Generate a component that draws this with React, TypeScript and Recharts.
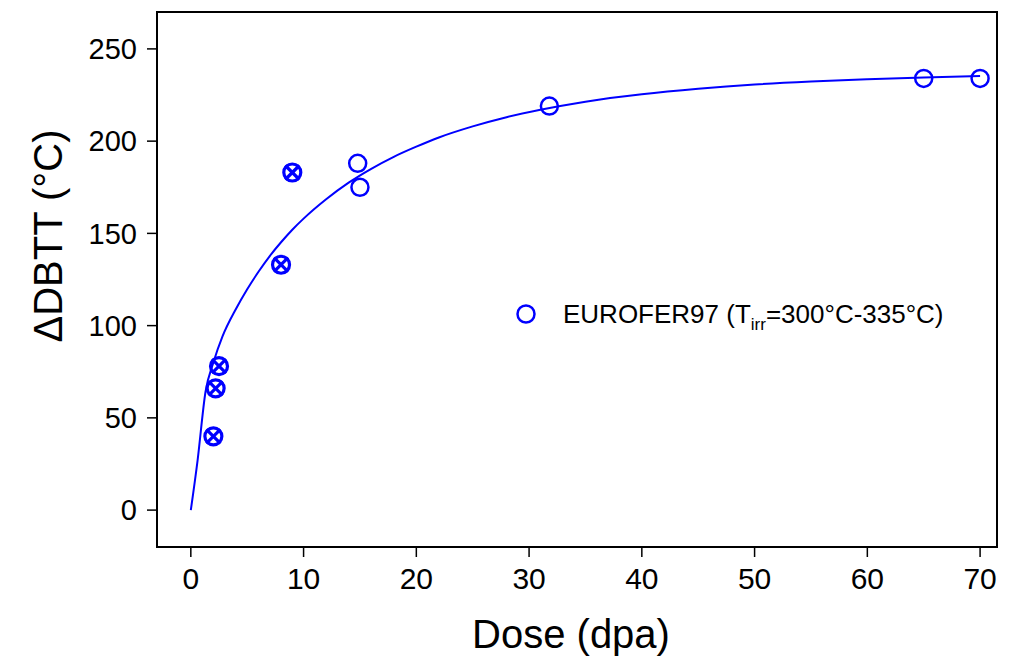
import React from 'react';
import {
  ComposedChart,
  Line,
  Scatter,
  XAxis,
  YAxis,
  Legend,
  ReferenceArea,
  Label
} from 'recharts';

// crossed markers (EUROFER97, low dose)
const crossedDose = [2.0, 2.2, 2.5, 8.0, 9.0];
const crossedShift = [40, 66, 78, 133, 183];

// open markers (EUROFER97, higher dose)
const openDose = [14.8, 15.0, 31.8, 65.0, 70.0];
const openShift = [188, 175, 219, 234, 234];

// fitted trend line
const fitDose = [0, 0.6, 1.3, 2, 2.8, 4, 5, 6, 7, 8, 9, 10, 12, 14, 16, 18, 20, 22, 25, 28, 31, 35, 40, 45, 50, 55, 60, 65, 70];
const fitShift = [0, 27, 64, 80, 94, 109, 119.7, 129.2, 137.7, 145.2, 152, 158, 168.5, 177.5, 185, 191.5, 197, 202, 208, 213, 217, 221.4, 225.4, 228.4, 230.7, 232.3, 233.5, 234.5, 235.3];

const xTicks = [0, 10, 20, 30, 40, 50, 60, 70];
const yTicks = [0, 50, 100, 150, 200, 250];

const BLUE = '#0000ff';
const FONT = '"Liberation Sans", Arial, sans-serif';

const crossedData = crossedDose.map((x, i) => ({ x, y: crossedShift[i] }));
const openData = openDose.map((x, i) => ({ x, y: openShift[i] }));
const fitData = fitDose.map((x, i) => ({ x, y: fitShift[i] }));

const OpenCircle = (props: any) => {
  const { cx, cy } = props;
  return <circle cx={cx} cy={cy} r={8.5} fill="none" stroke={BLUE} strokeWidth={2.5} />;
};

const CrossedCircle = (props: any) => {
  const { cx, cy } = props;
  const d = 7;
  return (
    <g>
      <circle cx={cx} cy={cy} r={8.5} fill="none" stroke={BLUE} strokeWidth={3.2} />
      <line x1={cx - d} y1={cy - d} x2={cx + d} y2={cy + d} stroke={BLUE} strokeWidth={3.2} />
      <line x1={cx - d} y1={cy + d} x2={cx + d} y2={cy - d} stroke={BLUE} strokeWidth={3.2} />
    </g>
  );
};

const LegendBox = () => (
  <svg width={470} height={40} style={{ display: 'block' }}>
    <circle cx={16} cy={18} r={8.5} fill="none" stroke={BLUE} strokeWidth={2.5} />
    <text x={53} y={27} fontFamily={FONT} fontSize={26} fill="#000">
      EUROFER97 (T
      <tspan fontSize={17} dy={7}>irr</tspan>
      <tspan dy={-7}>=300°C-335°C)</tspan>
    </text>
  </svg>
);

const YTitle = (props: any) => {
  const { viewBox } = props;
  const x = viewBox.x + 62;
  const y = viewBox.y + 224;
  return (
    <text
      x={x}
      y={y}
      transform={`rotate(-90, ${x}, ${y})`}
      textAnchor="middle"
      fontFamily={FONT}
      fontSize={40}
      fill="#000"
    >
      ΔDBTT (°C)
    </text>
  );
};

export default function App() {
  return (
    <div style={{ position: 'absolute', left: 0, top: 0, background: '#fff' }}>
      <ComposedChart
        width={1020}
        height={661}
        margin={{ top: 12, right: 23, bottom: 0, left: 0 }}
      >
        <XAxis
          type="number"
          dataKey="x"
          domain={[-3, 71.5]}
          ticks={xTicks}
          allowDataOverflow
          height={114}
          axisLine={false}
          tickSize={10}
          tickMargin={11}
          tickLine={{ stroke: '#000', strokeWidth: 1.5 }}
          tick={{ fill: '#000', fontSize: 30, fontFamily: FONT }}
        >
          <Label
            value="Dose (dpa)"
            position="insideBottom"
            offset={13}
            dx={-6}
            style={{ fill: '#000', fontSize: 40, fontFamily: FONT }}
          />
        </XAxis>
        <YAxis
          type="number"
          dataKey="y"
          domain={[-20, 270]}
          ticks={yTicks}
          allowDataOverflow
          width={157}
          axisLine={false}
          tickSize={10}
          tickMargin={10}
          tickLine={{ stroke: '#000', strokeWidth: 1.5 }}
          tick={{ fill: '#000', fontSize: 29, fontFamily: FONT }}
        >
          <Label content={<YTitle />} />
        </YAxis>
        <ReferenceArea
          x1={-3}
          x2={71.5}
          y1={-20}
          y2={270}
          fill="none"
          stroke="#000"
          strokeWidth={2}
          ifOverflow="visible"
        />
        <Line
          data={fitData}
          dataKey="y"
          type="monotone"
          stroke={BLUE}
          strokeWidth={2}
          dot={false}
          activeDot={false}
          legendType="none"
          isAnimationActive={false}
        />
        <Scatter
          data={crossedData}
          dataKey="y"
          shape={<CrossedCircle />}
          legendType="none"
          isAnimationActive={false}
        />
        <Scatter
          name="EUROFER97"
          data={openData}
          dataKey="y"
          shape={<OpenCircle />}
          isAnimationActive={false}
        />
        <Legend
          content={<LegendBox />}
          verticalAlign="middle"
          wrapperStyle={{ position: 'absolute', left: 510, top: 296, width: 470 }}
        />
      </ComposedChart>
    </div>
  );
}
